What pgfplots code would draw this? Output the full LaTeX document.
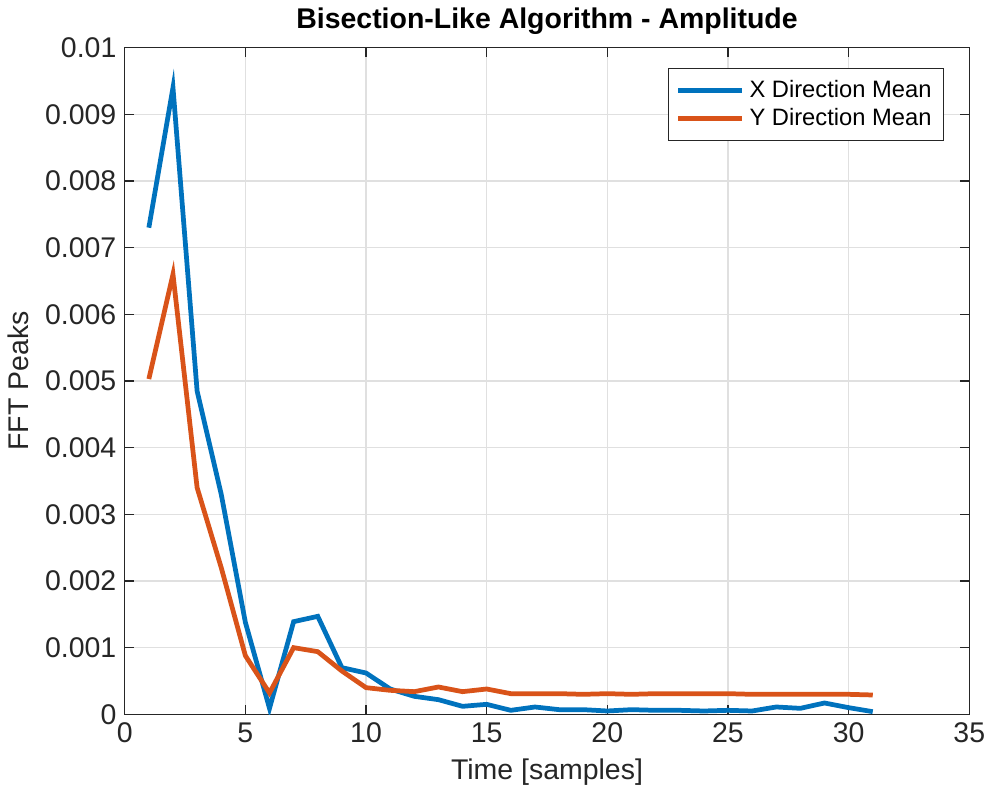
\documentclass[border=0pt]{standalone}
\usepackage{pgfplots}
\pgfplotsset{compat=1.18}
\usepackage{fontspec}
\setmainfont{Liberation Sans}

\definecolor{mblue}{RGB}{0,114,189}
\definecolor{morange}{RGB}{217,83,25}
\definecolor{axgray}{RGB}{38,38,38}

\begin{document}
\begin{tikzpicture}
\begin{axis}[
width=356pt,height=281pt,scale only axis,
xmin=0,xmax=35,ymin=0,ymax=0.01,
xtick={0,5,...,35},
ytick={0,0.001,...,0.0105},
scaled y ticks=false,
yticklabel style={/pgf/number format/fixed,/pgf/number format/precision=3},
/pgf/number format/assume math mode=true,
tick label style={font=\large,color=axgray},
label style={font=\large,color=axgray},
xlabel={Time [samples]},
ylabel={FFT Peaks},
title={\textbf{Bisection-Like Algorithm - Amplitude}},
title style={font=\large,yshift=-4pt},
grid=major,
major grid style={color=black!12,line width=0.6pt},
axis line style={color=axgray,line width=0.6pt},
tick style={color=axgray,line width=0.6pt},
major tick length=4pt,
tick align=inside,
legend style={font=\normalsize,draw=axgray,line width=0.5pt,at={(0.97,0.97)},anchor=north east,
  row sep=-1pt,inner sep=3pt},
legend cell align=left,
legend image code/.code={\draw[#1,line width=2pt] (0cm,0cm) -- (0.95cm,0cm);},
]
\addplot[color=mblue,line width=2pt] coordinates {
(1,0.0073) (2,0.0094) (3,0.00485) (4,0.0033) (5,0.00138) (6,0.00009)
(7,0.00139) (8,0.00147) (9,0.0007) (10,0.00062) (11,0.00038) (12,0.00027)
(13,0.00022) (14,0.00012) (15,0.00015) (16,0.00006) (17,0.00011) (18,0.00007)
(19,0.00007) (20,0.00005) (21,0.00007) (22,0.00006) (23,0.00006) (24,0.00005)
(25,0.00006) (26,0.00005) (27,0.00011) (28,0.00009) (29,0.00017) (30,0.0001)
(31,0.00004)
};
\addlegendentry{X Direction Mean}
\addplot[color=morange,line width=2pt] coordinates {
(1,0.00503) (2,0.0066) (3,0.0034) (4,0.0022) (5,0.00088) (6,0.00032)
(7,0.001) (8,0.00094) (9,0.00065) (10,0.0004) (11,0.00036) (12,0.00034)
(13,0.00041) (14,0.00034) (15,0.00038) (16,0.00031) (17,0.00031) (18,0.00031)
(19,0.0003) (20,0.00031) (21,0.0003) (22,0.00031) (23,0.00031) (24,0.00031)
(25,0.00031) (26,0.0003) (27,0.0003) (28,0.0003) (29,0.0003) (30,0.0003)
(31,0.00029)
};
\addlegendentry{Y Direction Mean}
\end{axis}
\end{tikzpicture}
\end{document}
